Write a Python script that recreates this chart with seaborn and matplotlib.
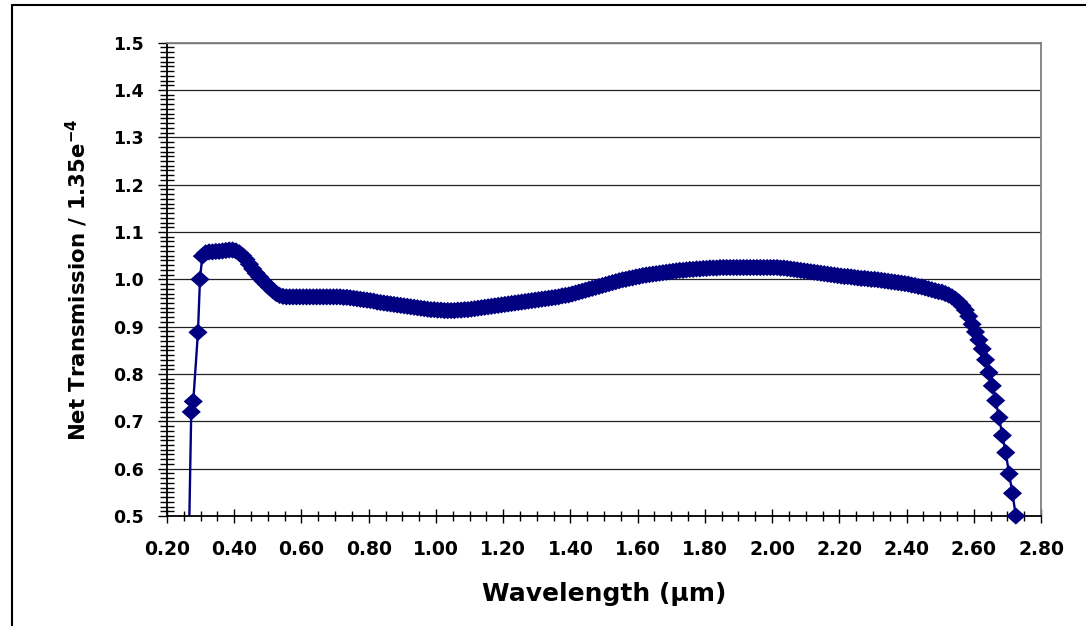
"""
plot.py - net transmission vs wavelength (recreated chart).
Saves out.png (1086x626).
"""

import matplotlib
matplotlib.use("Agg")  # headless
import matplotlib.pyplot as plt
from matplotlib.lines import Line2D
from matplotlib.ticker import MultipleLocator, FormatStrFormatter
import pandas as pd
import seaborn as sns

# ---------- data ----------
# steep rise at the blue end (first point lies below the axis, only its line shows)
RISE_WL = [0.264, 0.272, 0.278, 0.292, 0.298]
RISE_T = [0.400, 0.720, 0.742, 0.888, 1.000]

# dense part, one point every 0.01 um
DENSE_WL = [
    0.305, 0.315, 0.325, 0.335, 0.345, 0.355, 0.365, 0.375, 0.385, 0.395,
    0.405, 0.415, 0.425, 0.435, 0.445, 0.455, 0.465, 0.475, 0.485, 0.495,
    0.505, 0.515, 0.525, 0.535, 0.545, 0.555, 0.565, 0.575, 0.585, 0.595,
    0.605, 0.615, 0.625, 0.635, 0.645, 0.655, 0.665, 0.675, 0.685, 0.695,
    0.705, 0.715, 0.725, 0.735, 0.745, 0.755, 0.765, 0.775, 0.785, 0.795,
    0.805, 0.815, 0.825, 0.835, 0.845, 0.855, 0.865, 0.875, 0.885, 0.895,
    0.905, 0.915, 0.925, 0.935, 0.945, 0.955, 0.965, 0.975, 0.985, 0.995,
    1.005, 1.015, 1.025, 1.035, 1.045, 1.055, 1.065, 1.075, 1.085, 1.095,
    1.105, 1.115, 1.125, 1.135, 1.145, 1.155, 1.165, 1.175, 1.185, 1.195,
    1.205, 1.215, 1.225, 1.235, 1.245, 1.255, 1.265, 1.275, 1.285, 1.295,
    1.305, 1.315, 1.325, 1.335, 1.345, 1.355, 1.365, 1.375, 1.385, 1.395,
    1.405, 1.415, 1.425, 1.435, 1.445, 1.455, 1.465, 1.475, 1.485, 1.495,
    1.505, 1.515, 1.525, 1.535, 1.545, 1.555, 1.565, 1.575, 1.585, 1.595,
    1.605, 1.615, 1.625, 1.635, 1.645, 1.655, 1.665, 1.675, 1.685, 1.695,
    1.705, 1.715, 1.725, 1.735, 1.745, 1.755, 1.765, 1.775, 1.785, 1.795,
    1.805, 1.815, 1.825, 1.835, 1.845, 1.855, 1.865, 1.875, 1.885, 1.895,
    1.905, 1.915, 1.925, 1.935, 1.945, 1.955, 1.965, 1.975, 1.985, 1.995,
    2.005, 2.015, 2.025, 2.035, 2.045, 2.055, 2.065, 2.075, 2.085, 2.095,
    2.105, 2.115, 2.125, 2.135, 2.145, 2.155, 2.165, 2.175, 2.185, 2.195,
    2.205, 2.215, 2.225, 2.235, 2.245, 2.255, 2.265, 2.275, 2.285, 2.295,
    2.305, 2.315, 2.325, 2.335, 2.345, 2.355, 2.365, 2.375, 2.385, 2.395,
    2.405, 2.415, 2.425, 2.435, 2.445, 2.455, 2.465, 2.475, 2.485, 2.495,
    2.505, 2.515, 2.525, 2.535, 2.545, 2.555, 2.565, 2.575, 2.585, 2.595,
    2.605, 2.615, 2.625, 2.635, 2.645, 2.655, 2.665, 2.675, 2.685, 2.695,
    2.705, 2.715, 2.725,
]
DENSE_T = [
    1.049, 1.056, 1.058, 1.058, 1.059, 1.059, 1.060, 1.061, 1.062, 1.062,
    1.060, 1.056, 1.050, 1.042, 1.032, 1.022, 1.013, 1.005, 0.997, 0.990,
    0.983, 0.976, 0.970, 0.966, 0.964, 0.963, 0.963, 0.963, 0.963, 0.963,
    0.963, 0.963, 0.963, 0.963, 0.963, 0.963, 0.963, 0.963, 0.963, 0.963,
    0.963, 0.963, 0.962, 0.962, 0.961, 0.960, 0.959, 0.958, 0.957, 0.956,
    0.955, 0.954, 0.952, 0.951, 0.950, 0.949, 0.948, 0.947, 0.946, 0.945,
    0.944, 0.943, 0.942, 0.941, 0.940, 0.939, 0.938, 0.937, 0.936, 0.936,
    0.935, 0.935, 0.934, 0.934, 0.934, 0.934, 0.935, 0.935, 0.936, 0.936,
    0.937, 0.938, 0.939, 0.940, 0.941, 0.942, 0.943, 0.944, 0.945, 0.946,
    0.947, 0.948, 0.949, 0.950, 0.951, 0.952, 0.953, 0.954, 0.955, 0.956,
    0.957, 0.958, 0.959, 0.960, 0.961, 0.962, 0.963, 0.965, 0.966, 0.967,
    0.969, 0.971, 0.973, 0.975, 0.977, 0.979, 0.981, 0.983, 0.985, 0.987,
    0.989, 0.991, 0.993, 0.995, 0.997, 0.999, 1.000, 1.002, 1.003, 1.005,
    1.006, 1.008, 1.009, 1.010, 1.011, 1.012, 1.013, 1.014, 1.015, 1.016,
    1.017, 1.018, 1.019, 1.019, 1.020, 1.021, 1.021, 1.022, 1.022, 1.023,
    1.023, 1.024, 1.024, 1.024, 1.025, 1.025, 1.025, 1.025, 1.025, 1.025,
    1.025, 1.025, 1.025, 1.025, 1.025, 1.025, 1.025, 1.025, 1.025, 1.025,
    1.025, 1.025, 1.024, 1.024, 1.023, 1.022, 1.021, 1.020, 1.019, 1.018,
    1.017, 1.016, 1.015, 1.014, 1.013, 1.012, 1.011, 1.010, 1.009, 1.008,
    1.007, 1.006, 1.006, 1.005, 1.004, 1.003, 1.002, 1.002, 1.001, 1.000,
    1.000, 0.999, 0.998, 0.997, 0.996, 0.995, 0.994, 0.993, 0.992, 0.991,
    0.990, 0.988, 0.987, 0.985, 0.984, 0.982, 0.980, 0.978, 0.976, 0.974,
    0.973, 0.970, 0.967, 0.963, 0.958, 0.952, 0.944, 0.935, 0.922, 0.905,
    0.889, 0.872, 0.853, 0.830, 0.803, 0.775, 0.744, 0.708, 0.670, 0.634,
    0.589, 0.548, 0.500,
]

X_TICKS = [0.20, 0.40, 0.60, 0.80, 1.00, 1.20, 1.40, 1.60, 1.80, 2.00,
           2.20, 2.40, 2.60, 2.80]
Y_TICKS = [0.5, 0.6, 0.7, 0.8, 0.9, 1.0, 1.1, 1.2, 1.3, 1.4, 1.5]

NAVY = "#000080"

df = pd.DataFrame({"wl": RISE_WL + DENSE_WL, "t": RISE_T + DENSE_T})
# only points inside the y range get a marker
shown = df[df["t"] >= Y_TICKS[0]]

sns.set_theme(style="white")
plt.rcParams["font.family"] = ["DejaVu Sans"]
plt.rcParams["font.weight"] = "bold"
plt.rcParams["mathtext.fontset"] = "dejavusans"
for key in ["text.color", "axes.labelcolor", "xtick.color", "ytick.color"]:
    plt.rcParams[key] = "black"

fig = plt.figure(figsize=(10.86, 6.26), dpi=100)
ax = fig.add_axes([0.1538, 0.1757, 0.8048, 0.7561])

# line (clipped at the axes) + diamond markers (not clipped)
sns.lineplot(data=df, x="wl", y="t", sort=False, estimator=None,
             color=NAVY, lw=1.7, ax=ax)
diamond = [(-1.0, 0.0), (0.0, 0.9), (1.0, 0.0), (0.0, -0.9), (-1.0, 0.0)]
sns.scatterplot(data=shown, x="wl", y="t", marker=diamond, s=190,
                color=NAVY, edgecolor="none", linewidth=0, clip_on=False,
                zorder=3, ax=ax)

ax.set_xlim(X_TICKS[0], X_TICKS[-1])
ax.set_ylim(Y_TICKS[0], Y_TICKS[-1])
ax.set_xticks(X_TICKS)
ax.set_yticks(Y_TICKS)
ax.xaxis.set_major_formatter(FormatStrFormatter("%.2f"))
ax.yaxis.set_major_formatter(FormatStrFormatter("%.1f"))
ax.xaxis.set_minor_locator(MultipleLocator(0.05))
ax.yaxis.set_minor_locator(MultipleLocator(0.01))

ax.yaxis.grid(True, which="major", color="#222222", lw=0.9)
ax.xaxis.grid(False)
ax.set_axisbelow(True)

for side in ["left", "bottom"]:
    ax.spines[side].set_color("black")
    ax.spines[side].set_linewidth(1.3)
for side in ["top", "right"]:
    ax.spines[side].set_color("#808080")
    ax.spines[side].set_linewidth(1.3)

ax.tick_params(axis="x", which="major", bottom=True, direction="inout",
               length=10, width=1, color="black", pad=12.5, labelsize=13.5)
ax.tick_params(axis="x", which="minor", bottom=True, direction="inout",
               length=6.5, width=1, color="black")
ax.tick_params(axis="y", which="major", left=True, direction="out",
               length=6.5, width=1, color="black", pad=10, labelsize=12.5)
ax.tick_params(axis="y", which="minor", left=True, direction="inout",
               length=9.4, width=1, color="black")
for lab in ax.get_xticklabels() + ax.get_yticklabels():
    lab.set_fontweight("bold")

ax.set_xlabel("Wavelength (\u03bcm)", fontsize=18, fontweight="bold")
ax.set_ylabel(r"Net Transmission / 1.35e$^{\mathbf{-4}}$", fontsize=15.3,
              fontweight="bold")
ax.xaxis.set_label_coords(0.5, -0.139)
ax.yaxis.set_label_coords(-0.088, 0.5)

# outer chart-area frame (only left and top edges are inside the picture)
fig.add_artist(Line2D([0.011, 0.011], [0.0, 0.992], color="black", lw=1.5,
                      transform=fig.transFigure))
fig.add_artist(Line2D([0.011, 1.0], [0.992, 0.992], color="black", lw=1.5,
                      transform=fig.transFigure))

fig.savefig("out.png", dpi=100)
plt.close(fig)
